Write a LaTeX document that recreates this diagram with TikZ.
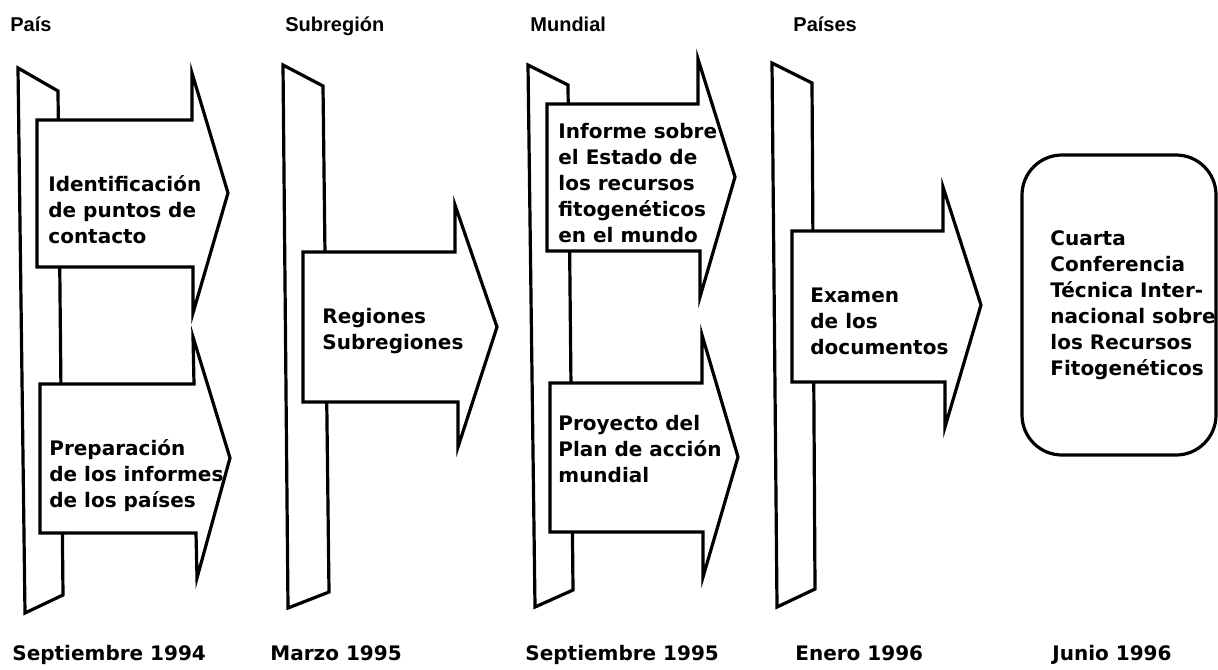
\documentclass[tikz,border=0pt]{standalone}
\usepackage{fontspec}
\setmainfont{DejaVu Sans}
\newfontfamily\hdfont{Liberation Sans}
\newcommand\myst{\rule{0pt}{7.6pt}}
\begin{document}
\begin{tikzpicture}[x=0.5pt,y=-0.5pt,
  shp/.style={draw=black, fill=white, line width=1.6pt, line join=miter},
  txt/.style={anchor=north west, inner sep=0pt, align=left, yshift=7.6pt,
    font=\fontsize{10}{13}\selectfont\bfseries},
  hd/.style={anchor=base west, inner sep=0pt, font=\hdfont\fontsize{10}{12}\selectfont\bfseries},
  dt/.style={anchor=base west, inner sep=0pt, font=\fontsize{10}{13}\selectfont\bfseries}]
\useasboundingbox (0,0) rectangle (1218,669);

% column 1
\draw[shp] (18,68) -- (58,91) -- (63,595) -- (25,613) -- cycle;
\draw[shp] (37,120) -- (192,120) -- (192,73) -- (228,193) -- (193,313) -- (193,267) -- (37,267) -- cycle;
\draw[shp] (40,384) -- (194,384) -- (193,337) -- (230,458) -- (197,578) -- (196,533) -- (40,533) -- cycle;
\node[txt] (t1a) at (48,190) {\myst Identificación\\de puntos de\\contacto};
\node[txt] (t1b) at (49,454) {\myst Preparación\\de los informes\\de los países};

% column 2
\draw[shp] (283,65) -- (323,86) -- (329,592) -- (288,608) -- cycle;
\draw[shp] (303,252) -- (455,252) -- (455,205) -- (497,327) -- (458,447) -- (458,402) -- (303,402) -- cycle;
\node[txt] (t2) at (322,323) {\myst Regiones\\Subregiones};

% column 3
\draw[shp] (528,65) -- (568,85) -- (573,590) -- (535,607) -- cycle;
\draw[shp] (547,104) -- (698,104) -- (698,59) -- (735,177) -- (700,297) -- (700,251) -- (547,251) -- cycle;
\draw[shp] (550,383) -- (702,383) -- (702,335) -- (738,457) -- (703,577) -- (703,532) -- (550,532) -- cycle;
\node[txt] (t3a) at (558,138) {\myst Informe sobre\\el Estado de\\los recursos\\fitogenéticos\\en el mundo};
\node[txt] (t3b) at (558,430) {\myst Proyecto del\\Plan de acción\\mundial};

% column 4
\draw[shp] (772,63) -- (812,83) -- (815,589) -- (777,607) -- cycle;
\draw[shp] (792,231) -- (943,231) -- (943,187) -- (981,305) -- (945,427) -- (945,382) -- (792,382) -- cycle;
\node[txt] (t4) at (810,302) {\myst Examen\\de los\\documentos};

% column 5
\draw[shp, rounded corners=20pt] (1022,155) rectangle (1216,455);
\node[txt] (t5) at (1050,245) {\myst Cuarta\\Conferencia\\Técnica Inter-\\nacional sobre\\los Recursos\\Fitogenéticos};

% headers
\node[hd] (h1) at (10,32) {País};
\node[hd] (h2) at (285,32) {Subregión};
\node[hd] (h3) at (530,32) {Mundial};
\node[hd] (h4) at (793,32) {Países};

% dates
\node[dt] (d1) at (12,660) {Septiembre 1994};
\node[dt] (d2) at (270,660) {Marzo 1995};
\node[dt] (d3) at (525,660) {Septiembre 1995};
\node[dt] (d4) at (795,660) {Enero 1996};
\node[dt] (d5) at (1052,660) {Junio 1996};
\end{tikzpicture}
\end{document}
